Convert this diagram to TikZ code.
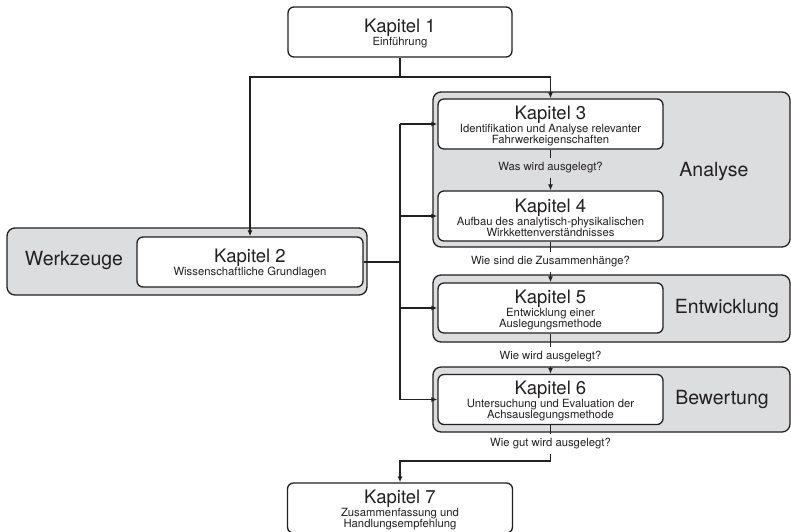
\documentclass[tikz,border=0pt]{standalone}
\usepackage{fontspec}
\setmainfont{TeX Gyre Heros}
\usetikzlibrary{arrows.meta}
\definecolor{boxgray}{HTML}{DCDDDF}
\definecolor{ink}{HTML}{231F20}
\newcommand{\kaptitle}[1]{{\fontsize{18.5}{18.5}\selectfont\rule{0pt}{16.5pt}#1}\\[2pt]}
\newcommand{\subfont}{\fontsize{11.3}{11}\selectfont\lineskiplimit=-5pt\relax}

\begin{document}
\begin{tikzpicture}[x=1pt,y=-1pt,
  kapbox/.style={draw=ink,line width=1.3pt,fill=white,rounded corners=6pt,
    minimum width=225pt,minimum height=50pt,inner sep=0pt,align=center,
    text=ink,font=\subfont},
  groupbox/.style={draw=ink,line width=1.3pt,fill=boxgray,rounded corners=8pt,
    inner sep=0pt,minimum width=357pt},
  grouplabel/.style={text=ink,font=\fontsize{19.5}{19.5}\selectfont},
  question/.style={text=ink,inner xsep=2pt,inner ysep=4pt,
    font=\fontsize{11.3}{11.5}\selectfont},
  link/.style={draw=ink,line width=1.7pt},
  arr/.style={link,-{Latex[length=6pt,width=5pt]}}]
\useasboundingbox (0,0) rectangle (791,531);

\node[groupbox,minimum width=360pt,minimum height=67pt] (werkzeuge) at (187,261.5) {};
\node[groupbox,minimum height=155pt] (analyse) at (611.5,169.5) {};
\node[groupbox,minimum height=67pt] (entwicklung) at (611.5,308.5) {};
\node[groupbox,minimum height=65pt] (bewertung) at (611.5,399.5) {};
\node[grouplabel] (werkzeugelbl) at (74,261) {Werkzeuge};
\node[grouplabel] (analyselbl) at (714,172) {Analyse};
\node[grouplabel] (entwicklunglbl) at (727,309) {Entwicklung};
\node[grouplabel] (bewertunglbl) at (722,400) {Bewertung};

\node[kapbox,minimum width=224pt] (k1) at (400,32) {\kaptitle{Kapitel 1}Einführung};
\node[kapbox,minimum width=226pt] (k2) at (250,262) {\kaptitle{Kapitel 2}Wissenschaftliche Grundlagen};
\node[kapbox] (k3) at (550.5,124) {\kaptitle{Kapitel 3}Identifikation und Analyse relevanter\\Fahrwerkeigenschaften};
\node[kapbox] (k4) at (550.5,216) {\kaptitle{Kapitel 4}Aufbau des analytisch-physikalischen\\Wirkkettenverständnisses};
\node[kapbox] (k5) at (550.5,308) {\kaptitle{Kapitel 5}Entwicklung einer\\Auslegungsmethode};
\node[kapbox] (k6) at (550.5,399.5) {\kaptitle{Kapitel 6}Untersuchung und Evaluation der\\Achsauslegungsmethode};
\node[kapbox] (k7) at (400,508) {\kaptitle{Kapitel 7}Zusammenfassung und\\Handlungsempfehlung};

\node[question] (q1) at (550.5,168) {Was wird ausgelegt?};
\node[question] (q2) at (550.5,262) {Wie sind die Zusammenhänge?};
\node[question] (q3) at (550.5,357) {Wie wird ausgelegt?};
\node[question] (q4) at (550.5,444) {Wie gut wird ausgelegt?};

\coordinate (split) at (400,77);
\coordinate (bus) at (400,0);
\coordinate (merge) at (550.5,461);

\draw[link] (k1.south) -- (split);
\draw[arr] (split) -| (k2.north);
\draw[arr] (split) -| (k3.north);
\draw[link] (k2.east) -- (k2.east -| bus);
\draw[link] (k3.west -| bus) -- (k6.west -| bus);
\foreach \k in {3,...,6}
  \draw[arr] (k\k.west -| bus) -- (k\k.west);

\draw[link] (k3.south) -- (q1.north);
\draw[arr] (q1.south) -- (k4.north);
\draw[link] (k4.south) -- (q2.north);
\draw[arr] (q2.south) -- (k5.north);
\draw[link] (k5.south) -- (q3.north);
\draw[arr] (q3.south) -- (k6.north);
\draw[link] (k6.south) -- (q4.north);
\draw[arr] (q4.south) -- (merge) -| (k7.north);
\end{tikzpicture}
\end{document}
